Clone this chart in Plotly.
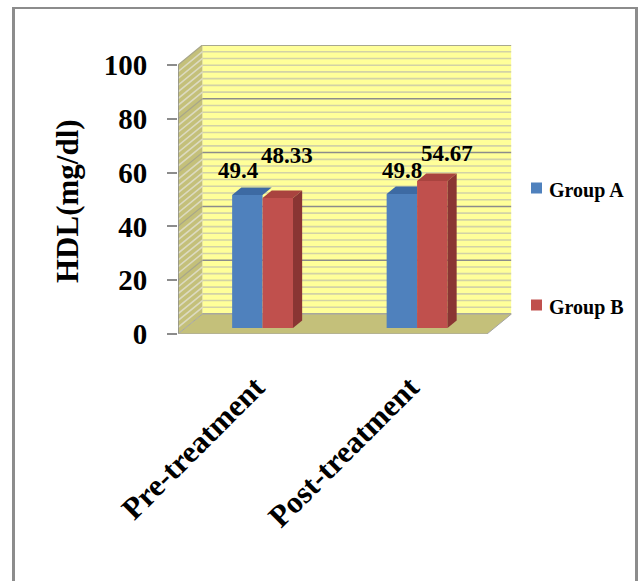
import plotly.graph_objects as go

# ---- data ----
categories = ["Pre-treatment", "Post-treatment"]
group_a = [49.4, 49.8]
group_b = [48.33, 54.67]
series_names = ["Group A", "Group B"]
y_ticks = [0, 20, 40, 60, 80, 100]
y_title = "HDL(mg/dl)"

# ---- pseudo-3D geometry (axis units) ----
DX = 0.158          # horizontal depth offset of the back wall
DY = 7.43           # vertical depth offset of the back wall
BAR_W = 0.197       # width of one bar
F0 = 0.30           # depth at which the bar front faces sit
FD = 0.375          # depth of a bar (fraction of DX/DY)
X0, X1 = -0.5, 1.5  # front plane extent
YMAX = 100

blue, blue_top = "#4f81bd", "#3d6aa3"
red, red_top, red_side = "#c0504d", "#a9433f", "#8a3533"
wall_yellow = "#ffff99"
olive = "#c4c07a"
grid_major = "#8c8c8c"
grid_minor = "#d2d2a6"
side_stripe = "#dcdac0"

SERIF = "Liberation Serif"

fig = go.Figure()
shapes = []

# back wall
shapes.append(dict(type="rect", xref="x", yref="y", layer="below",
                   x0=X0 + DX, x1=X1 + DX, y0=DY, y1=YMAX + DY,
                   fillcolor=wall_yellow, line=dict(width=0)))

# side wall
shapes.append(dict(type="path", xref="x", yref="y", layer="below",
                   path=f"M{X0},0 L{X0 + DX},{DY} L{X0 + DX},{YMAX + DY} L{X0},{YMAX} Z",
                   fillcolor=olive, line=dict(width=0)))

# gridlines on back wall and side wall
minor_vals = [i * 2.5 for i in range(41) if (i * 2.5) % 20 != 0]
major_vals = y_ticks


def wall_path(vals):
    return " ".join(f"M{X0 + DX},{v + DY} L{X1 + DX},{v + DY}" for v in vals)


def side_path(vals):
    return " ".join(f"M{X0},{v} L{X0 + DX},{v + DY}" for v in vals)


shapes.append(dict(type="path", xref="x", yref="y", layer="below",
                   path=wall_path(minor_vals), line=dict(color=grid_minor, width=1.6)))
shapes.append(dict(type="path", xref="x", yref="y", layer="below",
                   path=side_path(minor_vals), line=dict(color=side_stripe, width=1.6)))
shapes.append(dict(type="path", xref="x", yref="y", layer="below",
                   path=wall_path(major_vals), line=dict(color=grid_major, width=1.5)))
shapes.append(dict(type="path", xref="x", yref="y", layer="below",
                   path=side_path(major_vals[1:]), line=dict(color="#a8a68a", width=1.2)))

# left edge of side wall (value axis line)
shapes.append(dict(type="line", xref="x", yref="y", layer="below",
                   x0=X0, x1=X0, y0=0, y1=YMAX, line=dict(color="#8c8c8c", width=1.5)))

# floor
shapes.append(dict(type="path", xref="x", yref="y", layer="below",
                   path=f"M{X0},0 L{X1},0 L{X1 + DX},{DY} L{X0 + DX},{DY} Z",
                   fillcolor=olive, line=dict(color="#a6a6a6", width=1)))

# ---- bars ----
base = F0 * DY
shift = F0 * DX
xpos = [i + shift for i in range(len(categories))]

fig.add_trace(go.Bar(x=xpos, y=group_a, base=base, width=BAR_W, offset=-BAR_W,
                     marker=dict(color=blue, line=dict(width=0)), name=series_names[0],
                     showlegend=False, hoverinfo="skip"))
fig.add_trace(go.Bar(x=xpos, y=group_b, base=base, width=BAR_W, offset=0,
                     marker=dict(color=red, line=dict(width=0)), name=series_names[1],
                     showlegend=False, hoverinfo="skip"))

ddx, ddy = FD * DX, FD * DY


def poly_trace(xs, ys, color):
    return go.Scatter(x=xs, y=ys, mode="lines", fill="toself", fillcolor=color,
                      line=dict(width=0, color=color), showlegend=False, hoverinfo="skip")


for i, xc in enumerate(xpos):
    # Group B top and side faces
    xl, xr = xc, xc + BAR_W
    top = base + group_b[i]
    fig.add_trace(poly_trace([xl, xr, xr + ddx, xl + ddx, xl],
                             [top, top, top + ddy, top + ddy, top], red_top))
    fig.add_trace(poly_trace([xr, xr + ddx, xr + ddx, xr, xr],
                             [base, base + ddy, top + ddy, top, base], red_side))
    # Group A top face (its right corner hides behind a taller Group B bar)
    al, ar = xc - BAR_W, xc
    atop = base + group_a[i]
    if group_b[i] >= group_a[i]:
        xs = [al, ar, ar, al + ddx, al]
    else:
        xs = [al, ar, ar + ddx, al + ddx, al]
    ys = [atop, atop, atop + ddy, atop + ddy, atop]
    fig.add_trace(poly_trace(xs, ys, blue_top))

# ---- data labels ----
label_font = dict(family=SERIF, size=23, color="black")
label_shift_a = [(-9, 10), (0, 9)]
label_shift_b = [(9, 28), (15, 13)]
annotations = []
for i, xc in enumerate(xpos):
    annotations.append(dict(x=xc - BAR_W / 2, y=base + group_a[i], xref="x", yref="y",
                            text=f"<b>{group_a[i]:g}</b>", showarrow=False, yanchor="bottom",
                            xshift=label_shift_a[i][0], yshift=label_shift_a[i][1], font=label_font))
    annotations.append(dict(x=xc + BAR_W / 2, y=base + group_b[i], xref="x", yref="y",
                            text=f"<b>{group_b[i]:g}</b>", showarrow=False, yanchor="bottom",
                            xshift=label_shift_b[i][0], yshift=label_shift_b[i][1], font=label_font))

W, H = 640, 581

# ---- value axis title ----
annotations.append(dict(x=68 / W, y=1 - 201 / H, xref="paper", yref="paper",
                        text=f"<b>{y_title}</b>", textangle=-90, showarrow=False,
                        xanchor="center", yanchor="middle",
                        font=dict(family=SERIF, size=31, color="black")))

# ---- legend ----
legend_font = dict(family=SERIF, size=20, color="black")
for name, color, cy in [(series_names[0], blue, 188), (series_names[1], red, 305)]:
    shapes.append(dict(type="rect", xref="paper", yref="paper",
                       x0=531 / W, x1=542 / W, y0=1 - (cy + 5.5) / H, y1=1 - (cy - 5.5) / H,
                       fillcolor=color, line=dict(width=0)))
    annotations.append(dict(x=547 / W, y=1 - (cy + 2) / H, xref="paper", yref="paper",
                            text=f"<b>{name}</b>", showarrow=False, xanchor="left",
                            yanchor="middle", font=legend_font))

# ---- outer frame ----
frame = "#8c8c8c"
shapes.append(dict(type="line", xref="paper", yref="paper", x0=13.5 / W, x1=13.5 / W,
                   y0=1 - 7.5 / H, y1=-0.1, line=dict(color=frame, width=3)))
shapes.append(dict(type="line", xref="paper", yref="paper", x0=636.5 / W, x1=636.5 / W,
                   y0=1 - 7.5 / H, y1=-0.1, line=dict(color=frame, width=3)))
shapes.append(dict(type="line", xref="paper", yref="paper", x0=12 / W, x1=638 / W,
                   y0=1 - 8 / H, y1=1 - 8 / H, line=dict(color=frame, width=2)))

tick_font = dict(family=SERIF, size=29, color="black")
cat_font = dict(family=SERIF, size=31, color="black")

left_px, bottom_px, top_px = 178, 334, 45
px_per_x = 154.5
right_px = left_px + (X1 + DX - X0) * px_per_x

fig.update_layout(
    width=W, height=H, autosize=False,
    margin=dict(l=0, r=0, t=0, b=0, autoexpand=False),
    paper_bgcolor="white", plot_bgcolor="rgba(0,0,0,0)",
    showlegend=False,
    shapes=shapes, annotations=annotations,
    xaxis=dict(domain=[left_px / W, right_px / W], range=[X0, X1 + DX],
               tickmode="array", tickvals=list(range(len(categories))),
               ticktext=[f"<b>{c}</b>" for c in categories],
               tickangle=-45, ticks="", showgrid=False, zeroline=False, showline=False,
               tickfont=cat_font, ticklabelstandoff=28, automargin=False, fixedrange=True),
    yaxis=dict(domain=[1 - bottom_px / H, 1 - top_px / H], range=[0, YMAX + DY],
               tickmode="array", tickvals=y_ticks, ticktext=[f"<b>{v}</b>" for v in y_ticks],
               ticks="outside", ticklen=10, tickwidth=2, tickcolor="#8c8c8c",
               showgrid=False, zeroline=False, showline=False,
               tickfont=tick_font, ticklabelstandoff=14,
               automargin=False, fixedrange=True),
    font=dict(family=SERIF),
)

fig.write_html("out.html")
